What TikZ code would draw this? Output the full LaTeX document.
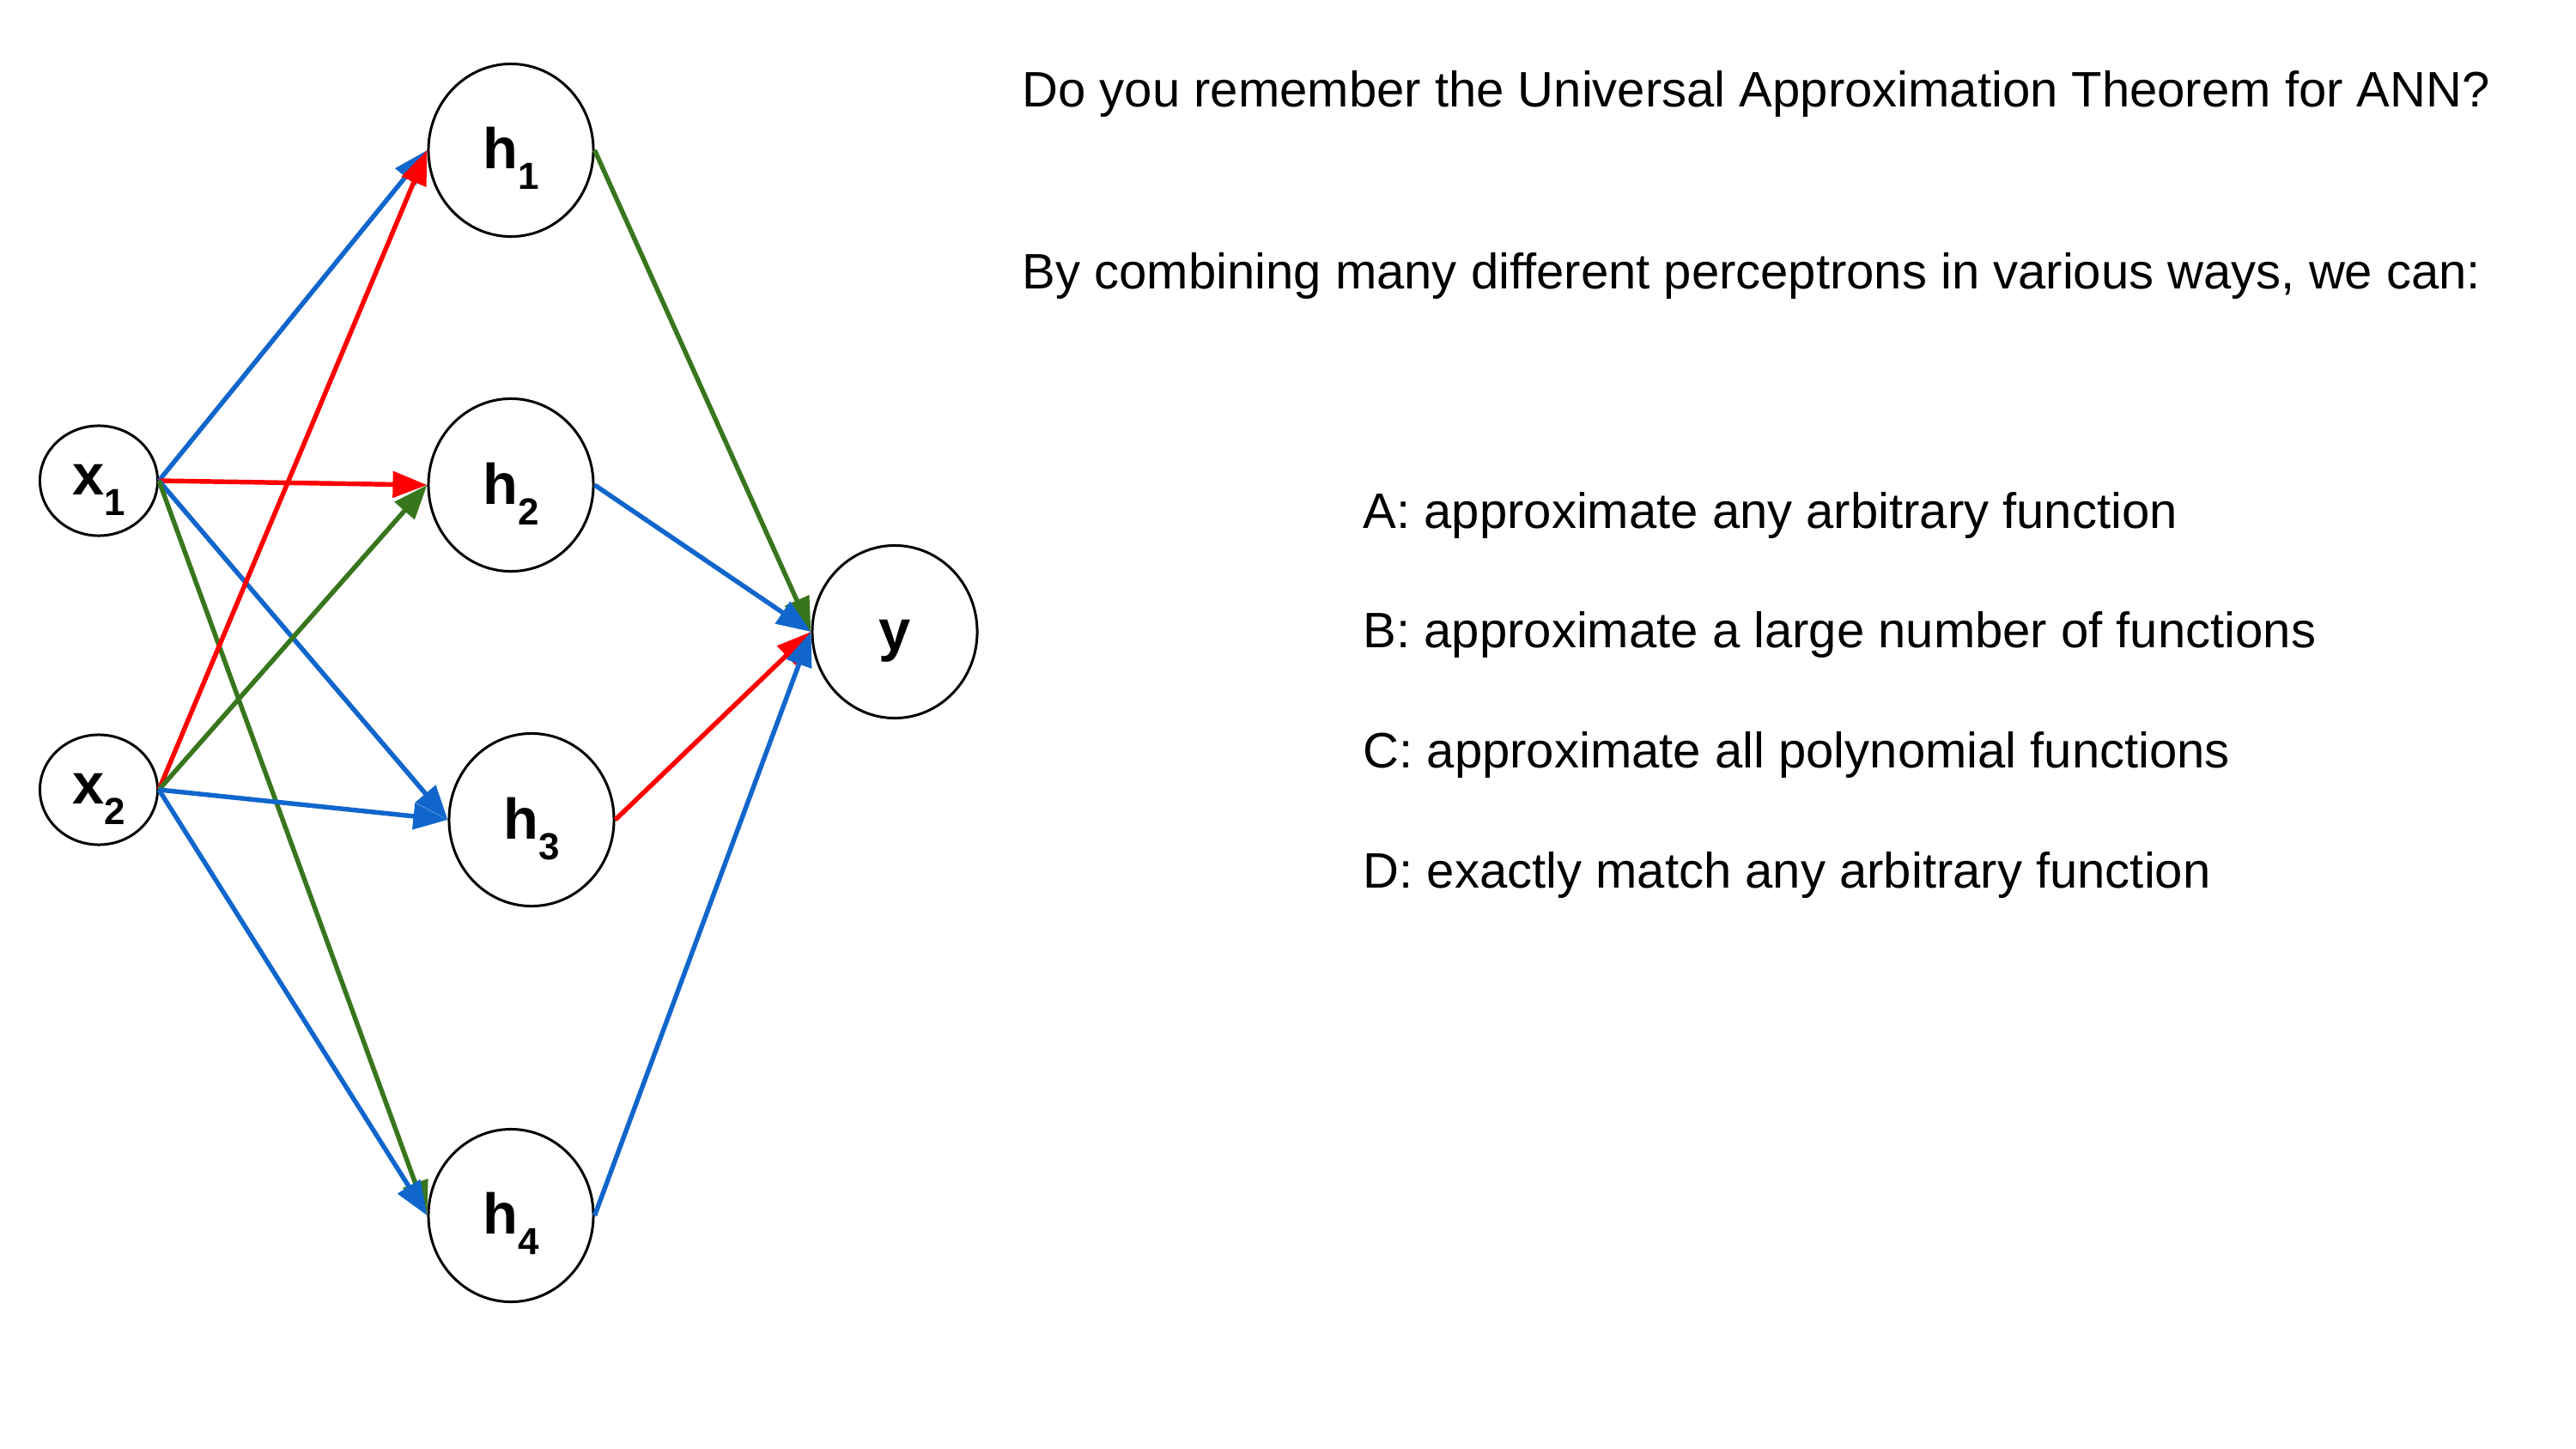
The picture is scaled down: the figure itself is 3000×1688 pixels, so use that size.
\documentclass[tikz,border=0pt]{standalone}
\usepackage{fontspec}
\setmainfont{Liberation Sans}
\usetikzlibrary{arrows.meta,shapes.geometric}
\definecolor{eblue}{HTML}{1166CC}
\definecolor{ered}{HTML}{FF0000}
\definecolor{egreen}{HTML}{38761D}
\newcommand{\nsub}[1]{\raisebox{-0.24cm}{\fontsize{12.5}{12.5}\selectfont\bfseries #1}}
\begin{document}
\begin{tikzpicture}[x=0.01cm, y=-0.01cm,
  neuron/.style={ellipse, draw, line width=0.85pt, inner sep=0pt, minimum width=1.92cm, minimum height=2.01cm},
  inneuron/.style={neuron, minimum width=1.37cm, minimum height=1.28cm},
  lbl/.style={inner sep=0pt, anchor=base, font=\fontsize{19}{20}\selectfont\bfseries},
  txt/.style={inner sep=0pt, anchor=base west, font=\fontsize{16.5}{19}\selectfont},
  conn/.style={line width=1.55pt, -{Triangle[length=0.4cm, width=0.3cm]}},
]
\useasboundingbox (0,0) rectangle (3000,1688);

% neurons
\node[inneuron] (x1) at (115,560) {};
\node[inneuron] (x2) at (115,920) {};
\node[neuron] (h1) at (595,175) {};
\node[neuron] (h2) at (595,565) {};
\node[neuron] (h3) at (619,955) {};
\node[neuron] (h4) at (595,1416) {};
\node[neuron] (y) at (1042,736) {};

% labels
\node[lbl] (x1t) at ([yshift=-0.16cm]x1.center) {x\nsub{1}};
\node[lbl] (x2t) at ([yshift=-0.16cm]x2.center) {x\nsub{2}};
\node[lbl] (h1t) at ([yshift=-0.21cm]h1.center) {h\nsub{1}};
\node[lbl] (h2t) at ([yshift=-0.22cm]h2.center) {h\nsub{2}};
\node[lbl] (h3t) at ([yshift=-0.22cm]h3.center) {h\nsub{3}};
\node[lbl] (h4t) at ([yshift=-0.21cm]h4.center) {h\nsub{4}};
\node[lbl] (yt) at ([yshift=-0.21cm]y.center) {y};

% connections
\draw[conn, eblue] (x1.east) -- (h1.west);
\draw[conn, ered] (x1.east) -- (h2.west);
\draw[conn, eblue] (x1.east) -- (h3.west);
\draw[conn, egreen] (x1.east) -- (h4.west);
\draw[conn, ered] (x2.east) -- (h1.west);
\draw[conn, egreen] (x2.east) -- (h2.west);
\draw[conn, eblue] (x2.east) -- (h3.west);
\draw[conn, eblue] (x2.east) -- (h4.west);
\draw[conn, egreen] (h1.east) -- (y.west);
\draw[conn, eblue] (h2.east) -- (y.west);
\draw[conn, ered] (h3.east) -- (y.west);
\draw[conn, eblue] (h4.east) -- (y.west);

% text
\node[txt] (q1) at (1190,125) {Do you remember the Universal Approximation Theorem for ANN?};
\node[txt] (q2) at (1190,336) {By combining many different perceptrons in various ways, we can:};
\node[txt] (oa) at (1587,615) {A: approximate any arbitrary function};
\node[txt] (ob) at (1587,754) {B: approximate a large number of functions};
\node[txt] (oc) at (1587,894) {C: approximate all polynomial functions};
\node[txt] (od) at (1587,1034) {D: exactly match any arbitrary function};
\end{tikzpicture}
\end{document}
